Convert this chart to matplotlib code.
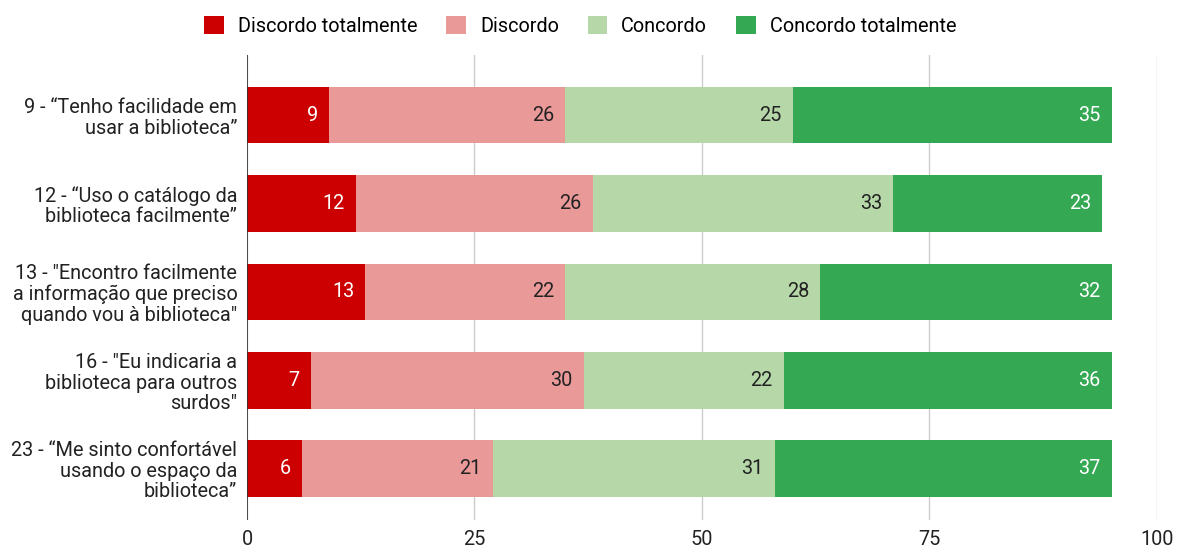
import matplotlib.pyplot as plt
import numpy as np

plt.rcParams['font.family'] = ['Roboto', 'DejaVu Sans']

# Data
questions = ['9 - \u201cTenho facilidade em\nusar a biblioteca\u201d',
             '12 - \u201cUso o cat\u00e1logo da\nbiblioteca facilmente\u201d',
             '13 - "Encontro facilmente\na informa\u00e7\u00e3o que preciso\nquando vou \u00e0 biblioteca"',
             '16 - "Eu indicaria a\nbiblioteca para outros\nsurdos"',
             '23 - \u201cMe sinto confort\u00e1vel\nusando o espa\u00e7o da\nbiblioteca\u201d']
series_names = ['Discordo totalmente', 'Discordo', 'Concordo', 'Concordo totalmente']
discordo_totalmente = [9, 12, 13, 7, 6]
discordo = [26, 26, 22, 30, 21]
concordo = [25, 33, 28, 22, 31]
concordo_totalmente = [35, 23, 32, 36, 37]
x_ticks = [0, 25, 50, 75, 100]

colors = ['#cc0000', '#ea9999', '#b6d7a8', '#34a853']
text_colors = ['white', '#222222', '#222222', 'white']
fs = 14.3

fig = plt.figure(figsize=(11.84, 5.57), dpi=100)
ax = fig.add_axes([0.2086, 0.0664, 0.7686, 0.8349])

y = np.arange(len(questions))
left = np.zeros(len(questions))
all_series = [discordo_totalmente, discordo, concordo, concordo_totalmente]
for vals, name, c, tc in zip(all_series, series_names, colors, text_colors):
    bars = ax.barh(y, vals, left=left, height=0.64, color=c, label=name, zorder=2)
    ax.bar_label(bars, labels=[str(v) for v in vals], label_type='edge',
                 padding=-8, color=tc, fontsize=fs, zorder=3)
    for t in ax.texts[-len(vals):]:
        t.set_ha('right')
    left += np.array(vals)

ax.set_xlim(0, 100)
ax.set_ylim(4.58, -0.68)
ax.set_xticks(x_ticks)
ax.set_xticklabels([str(v) for v in x_ticks], fontsize=fs, color='#222222')
ax.set_yticks(y)
ax.set_yticklabels(questions, fontsize=fs, color='#222222', linespacing=1.1)
ax.tick_params(axis='both', length=0)
ax.tick_params(axis='y', pad=7)
ax.tick_params(axis='x', pad=7)
ax.grid(axis='x', color='#cccccc', linewidth=1, zorder=0)
ax.axvline(0, color='#333333', linewidth=1.2, zorder=4)
for s in ax.spines.values():
    s.set_visible(False)

fig.legend(loc='upper center', bbox_to_anchor=(0.49, 1.003), ncol=4, frameon=False,
           fontsize=fs, handlelength=1.0, handleheight=1.0, columnspacing=1.45,
           handletextpad=0.7)

fig.savefig('out.png', dpi=100)
